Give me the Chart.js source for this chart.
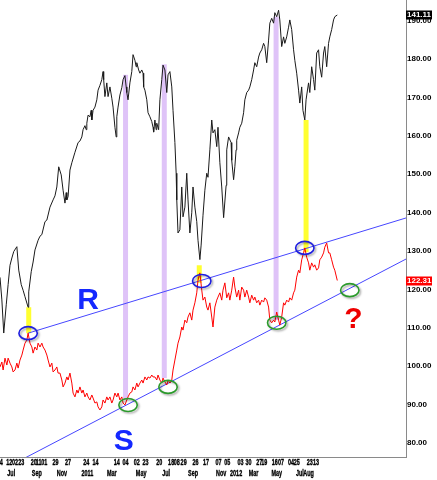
<!DOCTYPE html>
<html><head><meta charset="utf-8">
<script src="https://cdn.jsdelivr.net/npm/chart.js@4.4.1/dist/chart.umd.min.js"></script>
<style>html,body{margin:0;padding:0;background:#fff;}#wrap{width:437px;height:480px;}</style>
</head><body><div id="wrap"><canvas id="c" width="437" height="480"></canvas></div>
<script>
// ---- data (x = trading-day index from the left edge) ----
const blackDays = [0,3,6,10,13,16,19,22,27,30,34,37,40,45,46,50,53,56,61,64,67,72,75,80,85,88,91,94,98,101,104,106,107,109,112,115,120,125,128,131,133,136,138,139,141,144,146,147,149,152,155,157,160,163,165,166,168,171,173,176,179,181,184,186,187,189,192,195,197,200,202,203,205,208,211,213,216,218,219,222,224,227,229,230,232,235,237,240,243,245,246,248,250,251,254,256,259,261,264,267,269,272,275,277,280,282,283,285,288,291,293,296,299,301,304,307,309,312,315,317,320,322,325,328,331,333,336,339,341,344,347,349,352,355,358,362,363,366,370,371,374,376,378,379,382,384,387,390,392,395,398,400,403,406,408,411,414,416,419,422,424,427,430,432,435,438,440,443,446,448,451,454,456,459,462,464,467,470,472,475,478,480,483,485,488,490,494,496,499,502,504,507,510,512,515,518,520,523,526,528,531,534,536,540];
const blackVals = [108.6,105.8,101.7,105.2,107.7,110.1,111.0,111.8,112.4,109.5,107.7,107.0,106.2,104.9,106.8,109.3,110.5,112.0,113.2,113.7,113.9,115.5,115.7,117.3,118.2,118.7,119.8,122.3,121.3,119.4,117.8,119.1,118.2,118.6,121.9,122.8,124.1,125.3,125.5,126.0,126.9,127.4,126.9,127.7,128.7,128.5,129.3,128.1,129.3,129.7,130.6,131.8,132.4,133.1,134.1,133.1,131.0,132.7,131.0,132.2,130.8,129.7,127.2,126.0,128.5,129.7,131.2,132.1,133.1,133.6,132.2,131.5,130.6,132.7,134.1,136.2,135.5,134.7,135.2,134.3,133.9,134.3,133.9,132.2,131.8,130.6,129.0,128.5,127.9,127.2,126.6,128.1,126.9,127.7,126.9,130.6,133.1,134.9,134.3,131.5,133.7,134.1,132.2,129.3,125.3,121.5,118.2,114.1,114.5,119.8,116.1,117.3,121.5,118.2,114.1,116.6,119.8,117.3,115.5,113.2,110.8,112.6,116.3,119.4,121.5,121.0,124.4,128.1,126.5,126.9,124.8,127.2,122.8,119.8,116.0,120.0,124.4,126.0,125.3,123.1,120.7,122.3,124.4,125.6,126.5,127.2,127.7,129.0,130.6,131.5,131.8,132.2,133.1,134.3,135.2,134.7,135.9,136.4,136.8,137.6,137.2,135.2,138.0,140.1,140.7,140.1,141.4,140.9,141.7,140.5,137.2,138.4,137.6,138.4,139.6,140.5,139.3,136.8,135.5,133.9,131.8,130.2,132.2,129.3,128.1,130.6,132.7,131.5,134.7,133.1,131.8,136.4,136.8,134.7,133.4,136.4,137.2,134.7,137.6,138.4,139.3,140.5,140.9,141.11];
const redDays = [0,3,5,8,11,13,16,19,21,24,27,29,32,35,37,40,43,45,48,51,53,56,59,61,64,67,69,72,75,77,80,83,85,88,91,93,96,99,101,104,107,109,112,115,117,120,123,125,128,131,133,136,139,141,144,147,149,152,155,157,160,163,165,168,171,173,176,179,181,184,187,189,192,195,197,200,203,205,208,211,213,216,219,221,224,227,229,232,235,237,240,243,245,248,251,253,256,259,261,264,267,269,272,275,277,280,283,285,288,291,293,296,299,301,304,307,309,312,315,317,320,323,325,328,331,333,336,339,341,344,347,349,352,355,357,360,363,366,368,371,374,376,379,382,384,387,390,392,395,398,400,403,406,408,411,414,416,419,422,424,427,430,432,435,438,440,443,446,448,451,454,456,459,462,464,467,470,472,475,478,480,483,486,488,491,494,496,499,502,504,507,510,512,515,518,520,523,526,528,531,534,536,540];
const redVals = [99.8,101.1,99.0,102.1,100.3,102.1,100.8,99.8,98.5,99.0,100.8,99.5,101.6,102.9,104.2,106.0,106.8,108.6,106.0,105.0,103.4,105.0,104.2,106.0,105.0,106.0,105.0,104.2,102.9,101.6,99.8,100.8,98.5,99.0,99.8,98.2,98.2,96.4,94.6,95.6,97.2,96.4,98.2,95.6,93.0,92.0,93.8,93.0,94.6,93.0,93.8,92.0,93.0,92.0,91.2,92.5,91.7,90.4,90.7,89.4,88.6,89.4,91.2,90.4,92.0,91.2,92.0,90.4,91.2,93.0,92.0,93.0,91.2,92.0,90.4,89.9,91.2,92.0,93.0,93.3,94.6,93.8,95.6,94.6,95.6,96.4,95.6,97.2,96.4,97.2,96.9,97.7,97.2,97.2,96.4,97.7,96.4,95.6,96.9,95.9,95.1,96.4,95.6,96.4,99.0,101.6,104.2,106.0,107.6,110.2,109.4,112.0,111.3,112.8,113.9,112.0,114.6,116.5,119.1,122.4,124.3,119.8,117.2,118.0,115.4,114.6,116.5,112.8,110.2,115.4,117.2,118.0,119.1,117.2,119.8,121.7,117.8,119.1,117.2,119.8,123.2,120.6,118.0,119.8,117.2,120.6,119.8,118.0,119.8,118.0,116.5,118.5,117.2,118.0,116.5,117.2,115.9,117.2,116.7,117.8,117.2,115.4,112.0,111.3,112.0,111.5,114.1,112.0,110.7,112.8,116.5,115.9,117.2,116.7,117.8,117.2,119.1,119.8,123.2,125.0,124.3,127.7,129.5,130.8,128.4,126.9,125.0,126.9,125.8,126.4,125.0,125.6,127.7,128.4,129.5,131.0,132.1,129.5,129.5,127.7,125.8,125.0,122.31];

// trend lines (red-axis units)
const resistDays = [45, 650], resistVals = [108.6, 138.6];
const supportDays = [40, 650], supportVals = [76.1, 127.9];

// vertical highlight bars: top on the black series, bottom on the red series
const purpleDays = [201, 263, 442], purpleTop = [133.7, 135.0, 140.9], purpleBottom = [91.2, 96.9, 112.0];
const yellowDays = [46, 319, 490], yellowTop = [104.9, 110.1, 128.1], yellowBottom = [108.6, 121.7, 129.7];

// ring markers (red-axis units)
const blueRingDays = [45, 323, 488], blueRingVals = [108.6, 122.2, 130.8];
const greenRingDays = [205, 269, 443, 560], greenRingVals = [89.9, 94.6, 111.3, 119.8];

// annotation letters
const noteText = ['R', 'S', '?'], noteDays = [141, 198, 566], noteVals = [117.5, 80.8, 112.8];

// axis ticks
const axisTicks = [80, 90, 100, 110, 120, 130, 140, 150, 160, 170, 180, 190];
const dayTickPos = [2,15,24,34,54,62,71,89,109,138,153,187,201,219,233,255,274,283,294,313,330,350,364,385,398,415,423,440,450,466,475,496,506];
const dayTickText = ['4','12','02','23','20','11','01','29','27','24','14','14','04','02','23','20','18','08','29','26','17','07','05','03','30','27','19','16','07','04','25','23','13'];
const monthTickPos = [18,59,99,140,179,226,266,309,354,378,406,443,480,494];
const monthTickText = ['Jul','Sep','Nov','2011','Mar','May','Jul','Sep','Nov','2012','Mar','May','Jul','Aug'];

const blackLast = 141.11, redLast = 122.31;

const baseFam = '"Liberation Sans", Arial, sans-serif';

const overlay = {
  id: 'overlay',
  beforeDatasetsDraw(chart){
    const {ctx, chartArea: a, scales} = chart;
    const x = scales.x, y = scales.y, y2 = scales.y2;
    ctx.save();
    ctx.beginPath(); ctx.rect(a.left, a.top, a.right - a.left, a.bottom - a.top); ctx.clip();
    const bars = (days, tops, bots, color) => {
      ctx.fillStyle = color;
      days.forEach((d, i) => {
        const px = x.getPixelForValue(d);
        const t = y2.getPixelForValue(tops[i]);
        const b = y.getPixelForValue(bots[i]);
        ctx.fillRect(px - 2.5, Math.min(t, b), 5, Math.abs(b - t));
      });
    };
    bars(purpleDays, purpleTop, purpleBottom, '#dfc3f8');
    bars(yellowDays, yellowTop, yellowBottom, '#ffff30');
    ctx.restore();
  },
  afterDatasetsDraw(chart){
    const {ctx, scales} = chart;
    const x = scales.x, y = scales.y;
    const rings = (days, vals, color) => {
      days.forEach((d, i) => {
        const cx = x.getPixelForValue(d), cy = y.getPixelForValue(vals[i]);
        ctx.save();
        ctx.shadowColor = 'rgba(0,0,0,0.35)';
        ctx.shadowBlur = 2; ctx.shadowOffsetX = 1.5; ctx.shadowOffsetY = 1.5;
        ctx.beginPath(); ctx.ellipse(cx, cy, 9.2, 6.5, 0, 0, Math.PI * 2);
        ctx.strokeStyle = color; ctx.lineWidth = 1.6; ctx.stroke();
        ctx.restore();
      });
    };
    rings(blueRingDays, blueRingVals, '#1d1de0');
    rings(greenRingDays, greenRingVals, '#2a9a2a');
    ctx.save();
    ctx.font = 'bold 30px ' + baseFam;
    ctx.textAlign = 'center'; ctx.textBaseline = 'alphabetic';
    noteText.forEach((t, i) => {
      ctx.fillStyle = t === '?' ? '#ee0000' : '#1428ff';
      ctx.fillText(t, x.getPixelForValue(noteDays[i]), y.getPixelForValue(noteVals[i]) + 10.5);
    });
    ctx.restore();
  },
  afterDraw(chart){
    const {ctx, chartArea: a, scales} = chart;
    // price tags on the value axis
    const tag = (val, scale, bg) => {
      const py = scale.getPixelForValue(val);
      ctx.save();
      ctx.fillStyle = bg; ctx.fillRect(a.right, Math.round(py) - 4.5, 26, 9);
      ctx.fillStyle = '#fff'; ctx.font = 'bold 8px ' + baseFam;
      ctx.textAlign = 'left'; ctx.textBaseline = 'middle';
      ctx.fillText(val.toFixed(2), a.right + 1, Math.round(py));
      ctx.restore();
    };
    tag(blackLast, scales.y2, '#000');
    tag(redLast, scales.y, '#f00');
    // date axis labels (narrow, as in the source picture), placed at each axis' own ticks
    const rowLabels = (scale, cy) => {
      scale.ticks.forEach((t, i) => {
        ctx.save();
        ctx.translate(scale.getPixelForTick(i), cy);
        ctx.scale(0.64, 1);
        ctx.fillStyle = '#000'; ctx.strokeStyle = '#000'; ctx.lineWidth = 0.35;
        ctx.font = 'bold 8.5px ' + baseFam;
        ctx.textAlign = 'center'; ctx.textBaseline = 'middle';
        ctx.fillText(t.label, 0, 0);
        ctx.strokeText(t.label, 0, 0);
        ctx.restore();
      });
    };
    rowLabels(scales.x, scales.x.top + 5.5);
    rowLabels(scales.x2, scales.x2.top + 5.5);
  }
};

const pts = (xs, ys) => xs.map((d, i) => ({x: d, y: ys[i]}));

new Chart(document.getElementById('c'), {
  type: 'line',
  data: {
    datasets: [
      {label: 'Black', data: pts(blackDays, blackVals), yAxisID: 'y2', borderColor: '#1a1a1a', borderWidth: 1, pointRadius: 0, tension: 0, order: 1},
      {label: 'Red', data: pts(redDays, redVals), yAxisID: 'y', borderColor: '#ff0000', borderWidth: 1, pointRadius: 0, tension: 0, order: 2},
      {label: 'R', data: pts(resistDays, resistVals), yAxisID: 'y', borderColor: '#4646ff', borderWidth: 1, pointRadius: 0, order: 3},
      {label: 'S', data: pts(supportDays, supportVals), yAxisID: 'y', borderColor: '#4646ff', borderWidth: 1, pointRadius: 0, order: 3}
    ]
  },
  options: {
    responsive: false, animation: false, devicePixelRatio: 1,
    layout: {padding: 0},
    plugins: {legend: {display: false}, tooltip: {enabled: false}},
    scales: {
      x: {
        type: 'linear', position: 'bottom', min: 0, max: 650, weight: 0,
        afterBuildTicks: s => { s.ticks = dayTickPos.map(v => ({value: v})); },
        afterFit: s => { s.height = 11; s.paddingLeft = 0; s.paddingRight = 0; },
        grid: {display: false, drawTicks: false},
        border: {display: true, color: '#8a8a8a', width: 1},
        ticks: {display: false, autoSkip: false, maxRotation: 0, minRotation: 0,
          callback: (v, i) => dayTickText[i]}
      },
      x2: {
        type: 'linear', position: 'bottom', min: 0, max: 650, weight: 1,
        afterBuildTicks: s => { s.ticks = monthTickPos.map(v => ({value: v})); },
        afterFit: s => { s.height = 12; s.paddingLeft = 0; s.paddingRight = 0; },
        grid: {display: false, drawTicks: false},
        border: {display: false},
        ticks: {display: false, autoSkip: false, maxRotation: 0, minRotation: 0,
          callback: (v, i) => monthTickText[i]}
      },
      y: {
        type: 'linear', position: 'right', min: 76.35, max: 195.36,
        afterBuildTicks: s => { s.ticks = axisTicks.map(v => ({value: v})); },
        afterFit: s => { s.width = 31; s.paddingTop = 0; s.paddingBottom = 0; },
        grid: {display: false, drawTicks: false},
        border: {display: true, color: '#8a8a8a', width: 1},
        ticks: {padding: 1, color: '#000', font: {family: baseFam, size: 8, weight: 'bold'},
          callback: v => Number(v).toFixed(2)}
      },
      y2: {type: 'linear', display: false, min: 86.34, max: 142.97}
    }
  },
  plugins: [overlay]
});
</script></body></html>
